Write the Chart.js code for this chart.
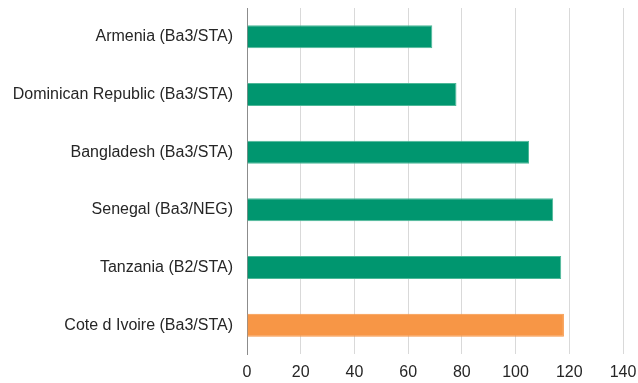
<!DOCTYPE html>
<html>
<head>
<meta charset="utf-8">
<script src="https://cdn.jsdelivr.net/npm/chart.js@4"></script>
<style>
  html, body { margin: 0; padding: 0; background: #fff; }
  #wrap { width: 638px; height: 383px; position: relative; }
</style>
</head>
<body>
<div id="wrap"><canvas id="chart"></canvas></div>
<script>
// data
const countries = [
    'Armenia (Ba3/STA)',
    'Dominican Republic (Ba3/STA)',
    'Bangladesh (Ba3/STA)',
    'Senegal (Ba3/NEG)',
    'Tanzania (B2/STA)',
    'Cote d Ivoire (Ba3/STA)'
];
const values = [69, 78, 105, 114, 117, 118];
const highlight = 'Cote d Ivoire (Ba3/STA)';
const xTicks = [0, 20, 40, 60, 80, 100, 120, 140];

const green = '#00966F';
const orange = '#F79646';

const barColors = countries.map(c => c === highlight ? orange : green);
const borderColors = countries.map(c => c === highlight ? '#F79646' : '#4DB898');

const labelFont = { family: '"Liberation Sans", Arial, sans-serif', size: 16 };

new Chart(document.getElementById('chart'), {
    type: 'bar',
    data: {
        labels: countries,
        datasets: [{
            data: values,
            backgroundColor: barColors,
            borderColor: borderColors,
            borderWidth: 1,
            borderSkipped: 'start',
            barPercentage: 0.4,
            categoryPercentage: 1.0
        }]
    },
    options: {
        indexAxis: 'y',
        responsive: true,
        maintainAspectRatio: false,
        animation: false,
        layout: { padding: { top: 8, right: 15, bottom: 0, left: 0 } },
        plugins: {
            legend: { display: false },
            tooltip: { enabled: false }
        },
        scales: {
            x: {
                min: 0,
                max: 140,
                afterBuildTicks: (scale) => { scale.ticks = xTicks.map(v => ({ value: v })); },
                afterFit: (scale) => {
                    scale.height = 29;
                    scale.paddingLeft = 0;
                    scale.paddingRight = 0;
                },
                grid: { color: '#d9d9d9', drawTicks: false, lineWidth: 1 },
                border: { display: false },
                ticks: { color: '#262626', padding: 9, font: labelFont }
            },
            y: {
                afterFit: (scale) => {
                    scale.width = 247;
                    scale.paddingTop = 0;
                    scale.paddingBottom = 0;
                },
                grid: { display: false },
                border: { display: true, color: '#8c8c8c', width: 1 },
                ticks: { color: '#262626', padding: 6, font: labelFont }
            }
        }
    }
});
</script>
</body>
</html>
